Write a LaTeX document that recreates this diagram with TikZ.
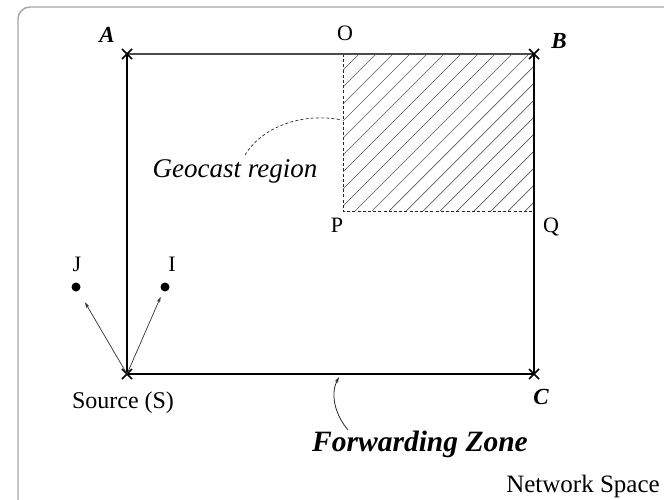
\documentclass[tikz,border=0pt]{standalone}
\usepackage{fontspec}
\setmainfont{Liberation Serif}
\usetikzlibrary{arrows.meta}
\begin{document}
\begin{tikzpicture}[x=1pt,y=-1pt,
  frame/.style={draw=black!35,line width=1.4pt,rounded corners=12pt},
  edge/.style={line width=1.8pt,black},
  topedge/.style={line width=1.8pt,black!70},
  xmark/.style={line width=1.7pt,black},
  hatchline/.style={black!65,line width=0.7pt},
  dashline/.style={black!85,line width=0.9pt,dash pattern=on 3pt off 2.2pt},
  dot/.style={circle,fill=black,inner sep=0pt,minimum size=9pt},
  thinarrow/.style={black!80,line width=0.7pt,-{Stealth[length=6pt,width=3.5pt]}},
  lbl/.style={inner sep=0pt,anchor=base},
  corner/.style={lbl,font=\fontsize{23pt}{26pt}\selectfont\bfseries\itshape},
  point/.style={lbl,font=\fontsize{22pt}{26pt}\selectfont},
]
\useasboundingbox (0,0) rectangle (664,500);
\begin{scope}
  \clip (0,0) rectangle (664,500);
  \draw[frame] (18,7) rectangle (700,540);
\end{scope}

% corners
\coordinate (A) at (127,54);
\coordinate (B) at (534,54);
\coordinate (C) at (534,374);
\coordinate (S) at (127,374);
\coordinate (O) at (343,54);
\coordinate (P) at (343,211);
\coordinate (Q) at (534,211);

% hatched geocast region
\begin{scope}
  \clip (O) rectangle (Q);
  \foreach \k in {0,...,22}
    \draw[hatchline] ({343-158+\k*17},211) -- ++(158,-158);
\end{scope}
\draw[dashline] (O) -- (P) -- (Q);

% forwarding zone rectangle
\draw[topedge] (A) -- (B);
\draw[edge] (B) -- (C) -- (S) -- (A);

% cross marks
\foreach \c in {A,B,C,S}
  \draw[xmark] (\c) +(-5,-5) -- +(5,5) +(-5,5) -- +(5,-5);

% nodes J and I
\node[dot] (J) at (76,287) {};
\node[dot] (I) at (165,287) {};
\draw[thinarrow,shorten >=13pt] (S) -- (J);
\draw[thinarrow,shorten >=6pt] (S) -- (I);

% labels
\node[corner] (lA) at (107,43) {A};
\node[corner] (lB) at (559,49) {B};
\node[corner] (lC) at (541,404) {C};
\node[point] (lO) at (345,41) {O};
\node[point] (lP) at (337,232) {P};
\node[point] (lQ) at (551,232) {Q};
\node[point] (lJ) at (77,271) {J};
\node[point] (lI) at (172,271) {I};
\node[lbl,font=\fontsize{24pt}{27pt}\selectfont] (src) at (123,408) {Source (S)};
\node[lbl,font=\fontsize{27pt}{30pt}\selectfont\itshape] (geo) at (235,178) {Geocast region};
\node[lbl,font=\fontsize{29.5pt}{33pt}\selectfont\bfseries\itshape] (fz) at (420,451) {Forwarding Zone};
\node[lbl,font=\fontsize{25pt}{28pt}\selectfont] (ns) at (583,492) {Network Space};

% geocast pointer
\coordinate (g1) at (245,155);
\coordinate (g2) at (342,120);
\draw[dashline,line width=0.7pt] (g1) .. controls (262,127) and (302,112) .. (g2);

% forwarding zone pointer
\coordinate (f1) at (348,430);
\coordinate (f2) at (339,377);
\draw[black!85,line width=0.8pt,-{Stealth[length=6pt,width=3.5pt]}] (f1) .. controls (333,412) and (331,392) .. (f2);
\end{tikzpicture}
\end{document}
